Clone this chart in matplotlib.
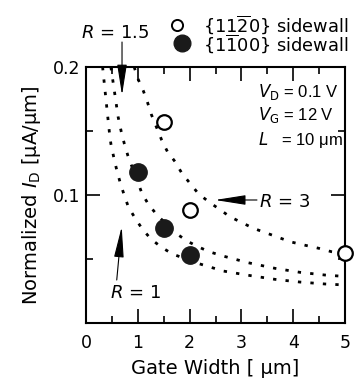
import matplotlib
matplotlib.use('Agg')
import matplotlib.pyplot as plt

plt.rcParams['font.family'] = 'DejaVu Sans'
plt.rcParams['mathtext.fontset'] = 'custom'
plt.rcParams['mathtext.rm'] = 'DejaVu Sans'
plt.rcParams['mathtext.it'] = 'DejaVu Sans:italic'
plt.rcParams['mathtext.bf'] = 'DejaVu Sans:bold'

# measured points
w_1120 = [1.5, 2.0, 5.0]
id_1120 = [0.157, 0.088, 0.055]
w_1100 = [1.0, 1.5, 2.0]
id_1100 = [0.118, 0.074, 0.053]

# dotted model curves
w_r1 = [0.32, 0.37, 0.42, 0.45, 0.48, 0.53, 0.59, 0.66, 0.73, 0.82, 0.95, 1.09,
        1.26, 1.46, 1.67, 2.16, 2.65, 3.13, 3.65, 4.13, 4.61, 4.95]
id_r1 = [0.200, 0.1805, 0.161, 0.1495, 0.140, 0.1305, 0.120, 0.1096, 0.1008, 0.0904,
         0.0818, 0.0732, 0.0654, 0.0591, 0.0539, 0.0466, 0.0406, 0.0373, 0.0341,
         0.032, 0.0305, 0.0298]
w_r15 = [0.48, 0.55, 0.62, 0.68, 0.74, 0.81, 1.08, 1.20, 1.37, 1.72, 1.94, 2.16,
         2.38, 2.62, 3.13, 3.65, 4.13, 4.61, 4.95]
id_r15 = [0.200, 0.1805, 0.161, 0.1495, 0.140, 0.1305, 0.1013, 0.093, 0.0844, 0.0706,
          0.0643, 0.0596, 0.0557, 0.0526, 0.0471, 0.0427, 0.0396, 0.0375, 0.0365]
w_r3 = [0.93, 1.0, 1.11, 1.19, 1.26, 1.46, 1.57, 1.72, 1.85, 2.01, 2.17, 2.36,
        2.78, 3.23, 3.68, 3.94, 4.20, 4.49, 4.74, 5.0]
id_r3 = [0.200, 0.191, 0.181, 0.172, 0.163, 0.143, 0.134, 0.126, 0.117, 0.109, 0.101,
         0.095, 0.083, 0.074, 0.0674, 0.0635, 0.061, 0.0584, 0.0557, 0.054]

fig = plt.figure(figsize=(3.55, 3.85), dpi=100)
ax = fig.add_axes([0.2423, 0.161, 0.7296, 0.665])

dots = (0, (1.2, 3.3))
for w, i in [(w_r1, id_r1), (w_r15, id_r15), (w_r3, id_r3)]:
    ax.plot(w, i, color='black', lw=2.0, linestyle=dots, clip_on=False)

ax.plot(w_1120, id_1120, 'o', ms=10.5, mfc='white', mec='black', mew=1.6, clip_on=False, zorder=5)
ax.plot(w_1100, id_1100, 'o', ms=12.5, mfc='#1a1a1a', mec='#1a1a1a', clip_on=False, zorder=5)

ax.set_xlim(0, 5)
ax.set_ylim(0, 0.2)
ax.set_xticks([0, 1, 2, 3, 4, 5])
ax.set_xticks([0.5, 1.5, 2.5, 3.5, 4.5], minor=True)
ax.set_yticks([0.1, 0.2])
ax.set_yticklabels(['0.1', '0.2'])
ax.set_yticks([0.05, 0.15], minor=True)
ax.tick_params(which='both', direction='in', top=True, right=True, width=1.2, labelsize=12.5)
ax.tick_params(which='major', length=10)
ax.tick_params(which='minor', length=5)
ax.tick_params(axis='x', pad=8)
ax.tick_params(axis='y', pad=4)
for s in ax.spines.values():
    s.set_linewidth(1.5)

ax.set_xlabel('Gate Width [ μm]', fontsize=14, labelpad=5)
ax.set_ylabel(r'Normalized $I_{\rm D}$ [μA/μm]', fontsize=14, labelpad=7)

# condition text (narrower face in the original)
cond = dict(fontsize=12, va='center', family='Liberation Sans')
ax.text(3.32, 0.1807, r'$V_{\rm D}$ = 0.1 V', **cond)
ax.text(3.32, 0.1625, r'$V_{\rm G}$ = 12 V', **cond)
ax.text(3.32, 0.143, r'$L$   = 10 μm', **cond)

# legend drawn by hand above the axes
ax.plot([1.757], [0.2328], 'o', ms=8, mfc='white', mec='black', mew=1.4, clip_on=False)
ax.plot([1.847], [0.2185], 'o', ms=12, mfc='#1a1a1a', mec='#1a1a1a', clip_on=False)
ax.text(2.253, 0.2330, r'$\{11\overline{2}0\}$ sidewall', fontsize=12.8, va='center')
ax.text(2.253, 0.2183, r'$\{1\overline{1}00\}$ sidewall', fontsize=12.8, va='center')

# R labels with arrows
arrow = dict(arrowstyle='-|>,head_length=1.9,head_width=0.3', color='black', lw=0.8,
             mutation_scale=10, shrinkA=0, shrinkB=0)
ax.text(0.56, 0.2263, r'$R$ = 1.5', fontsize=13, ha='center', va='center')
ax.annotate('', xy=(0.695, 0.178), xytext=(0.695, 0.2195), arrowprops=arrow,
            annotation_clip=False)
ax.text(3.33, 0.0948, r'$R$ = 3', fontsize=13, ha='left', va='center')
ax.annotate('', xy=(2.49, 0.0961), xytext=(3.3, 0.0961), arrowprops=arrow)
ax.text(0.962, 0.0232, r'$R$ = 1', fontsize=13, ha='center', va='center')
ax.annotate('', xy=(0.689, 0.0752), xytext=(0.593, 0.0336), arrowprops=arrow)

fig.savefig('out.png', dpi=100)
